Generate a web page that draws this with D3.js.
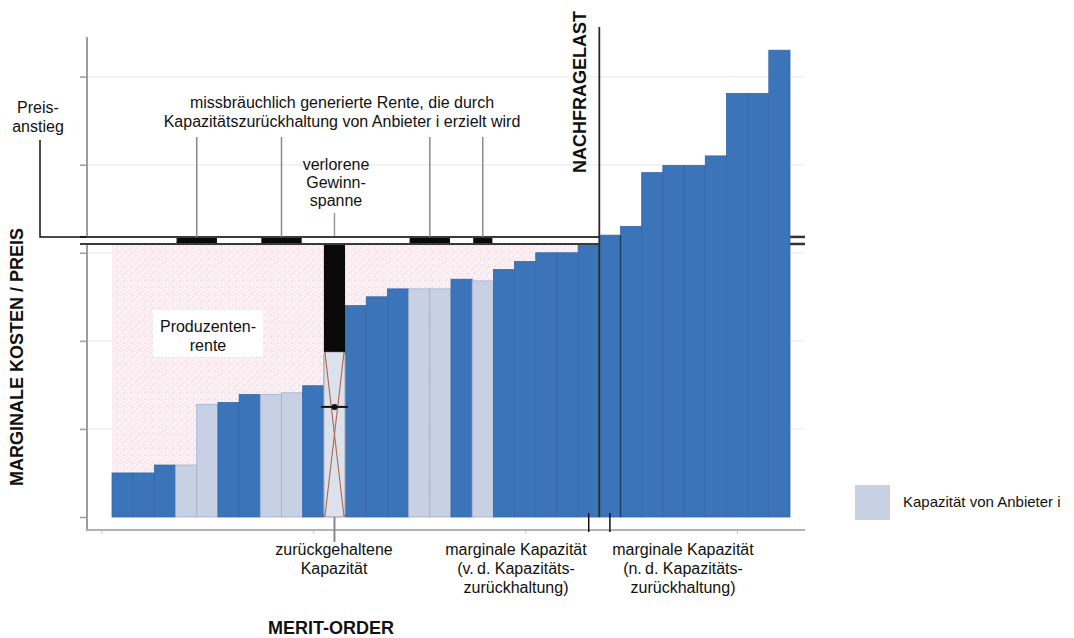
<!DOCTYPE html>
<html><head><meta charset="utf-8">
<script src="https://cdn.jsdelivr.net/npm/d3@7"></script>
<style>
html,body{margin:0;padding:0;background:#fff;}
svg{display:block;font-family:"Liberation Sans",Arial,sans-serif;}
</style></head>
<body><svg id="c" width="1074" height="638"></svg>
<script>
// ---------- data ----------
const marginalCost = [0.50,0.50,0.59,0.59,1.28,1.30,1.39,1.39,1.41,1.49,1.875,2.40,2.50,2.59,2.59,2.59,2.70,2.68,2.81,2.90,3.00,3.00,3.10,3.20,3.30,3.91,3.99,3.99,4.10,4.81,4.81,5.30];
const supplierI    = [0,0,0,1,1,0,0,1,1,0,1,0,0,0,1,1,0,1,0,0,0,0,0,0,0,0,0,0,0,0,0,0];
const withheldIndex = 10;
const demandUnits = 23;          // Nachfragelast (capacity units)
const marginalBefore = 22;       // marginal plant before withholding
const marginalAfter = 23;        // marginal plant after withholding
const priceBefore = 3.10;
const priceAfter = 3.18;
const rentGroups = [[3,4],[7,8],[14,15],[17]];
const yTicks = [0,1,2,3,4,5];
const xTicks = [-0.5,9.5,19.5,29.5];
const lossMarker = 1.25;

// ---------- scales ----------
const svg = d3.select("#c");
const idx = marginalCost.map((d,i)=>i);
const x = d3.scaleBand().domain(idx).range([112,790]).padding(0);
const cap = d3.scaleLinear().domain([0,marginalCost.length]).range([112,790]);
const y = d3.scaleLinear().domain([0,5.45]).range([517,37]);
const bw = x.bandwidth();
const DARK = "#3b74b8", LIGHT = "#c8d1e4";

// pattern for producer rent
const defs = svg.append("defs");
const pat = defs.append("pattern").attr("id","dots").attr("patternUnits","userSpaceOnUse").attr("width",7).attr("height",7);
pat.append("rect").attr("width",7).attr("height",7).attr("fill","#fcf3f6");
[[1,1],[4,3],[2,5],[6,6],[5,0.5]].forEach(p=>pat.append("circle").attr("cx",p[0]).attr("cy",p[1]).attr("r",0.55).attr("fill","#eab6c4"));

// gridlines
svg.append("g").selectAll("line").data(yTicks.filter(t=>t>0)).join("line")
  .attr("x1",88).attr("x2",805).attr("y1",d=>y(d)).attr("y2",d=>y(d))
  .attr("stroke","#f0f0f0").attr("stroke-width",1.5);

// producer rent area
svg.append("rect").attr("x",x(0)).attr("width",cap(demandUnits)-x(0))
  .attr("y",y(priceBefore)).attr("height",y(0)-y(priceBefore)).attr("fill","url(#dots)");

// y axis
svg.append("line").attr("x1",87).attr("x2",87).attr("y1",37).attr("y2",531).attr("stroke","#9d9d9d").attr("stroke-width",2);
const ya = svg.append("g").attr("transform","translate(87,0)")
  .call(d3.axisLeft(y).tickValues(yTicks).tickSize(7).tickFormat(""));
ya.select(".domain").remove();
ya.selectAll("line").attr("stroke","#9d9d9d").attr("stroke-width",1.5);

// x axis
svg.append("line").attr("x1",87).attr("x2",805).attr("y1",530).attr("y2",530).attr("stroke","#b3b3b3").attr("stroke-width",2);
const xa = svg.append("g").attr("transform","translate(0,531)")
  .call(d3.axisBottom(cap).tickValues(xTicks).tickSize(3).tickFormat(""));
xa.select(".domain").remove();
xa.selectAll("line").attr("stroke","#c8c8c8");

// bars before demand
const drawBars = (g, data) => g.selectAll("rect").data(data).join("rect")
  .attr("x",i=>x(i)).attr("width",bw)
  .attr("y",i=>y(marginalCost[i])).attr("height",i=>y(0)-y(marginalCost[i]))
  .attr("fill",i=>supplierI[i]?LIGHT:DARK)
  .attr("stroke",i=>supplierI[i]?"#9fb0cf":"#3468a9").attr("stroke-width",0.8);

drawBars(svg.append("g"), idx.filter(i=>i<demandUnits && i!==withheldIndex));

// withheld capacity bar
const wx = x(withheldIndex);
svg.append("rect").attr("x",wx).attr("width",bw).attr("y",y(marginalCost[withheldIndex]))
  .attr("height",y(0)-y(marginalCost[withheldIndex])).attr("rx",3)
  .attr("fill","#dde1ec").attr("stroke","#9a9a9a").attr("stroke-width",1);
svg.append("line").attr("x1",wx+1).attr("x2",wx+bw-1).attr("y1",y(marginalCost[withheldIndex])).attr("y2",y(0))
  .attr("stroke","#b0684c").attr("stroke-width",1.1);
svg.append("line").attr("x1",wx+bw-1).attr("x2",wx+1).attr("y1",y(marginalCost[withheldIndex])).attr("y2",y(0))
  .attr("stroke","#b0684c").attr("stroke-width",1.1);
// lost margin block
svg.append("rect").attr("x",wx).attr("width",bw).attr("y",y(priceBefore))
  .attr("height",y(marginalCost[withheldIndex])-y(priceBefore)).attr("fill","#0a0a0a");
// marker
svg.append("line").attr("x1",wx-3).attr("x2",wx+bw+3).attr("y1",y(lossMarker)).attr("y2",y(lossMarker)).attr("stroke","#111").attr("stroke-width",2);
svg.append("circle").attr("cx",wx+bw/2).attr("cy",y(lossMarker)).attr("r",3).attr("fill","#111");
// leader lines withheld
svg.append("line").attr("x1",wx+bw/2).attr("x2",wx+bw/2).attr("y1",213).attr("y2",y(priceBefore)).attr("stroke","#999").attr("stroke-width",1.5);
svg.append("line").attr("x1",wx+bw/2).attr("x2",wx+bw/2).attr("y1",y(0)).attr("y2",542).attr("stroke","#888").attr("stroke-width",2);

// price band
const bandL = 80, bandR = cap(demandUnits);
svg.append("rect").attr("x",bandL).attr("width",bandR-bandL).attr("y",y(priceAfter)).attr("height",y(priceBefore)-y(priceAfter)).attr("fill","#fff");
svg.append("g").selectAll("rect").data(rentGroups).join("rect")
  .attr("x",g=>x(g[0])+1).attr("width",g=>x(g[g.length-1])+bw-x(g[0])-2)
  .attr("y",y(priceAfter)).attr("height",y(priceBefore)-y(priceAfter)).attr("fill","#0a0a0a");
[priceAfter, priceBefore].forEach(p=>{
  svg.append("line").attr("x1",bandL).attr("x2",bandR).attr("y1",y(p)).attr("y2",y(p)).attr("stroke","#3a3a3a").attr("stroke-width",2);
  svg.append("line").attr("x1",790).attr("x2",805).attr("y1",y(p)).attr("y2",y(p)).attr("stroke","#333").attr("stroke-width",2.5);
});
// leaders for abusive rent
svg.append("g").selectAll("line").data(rentGroups).join("line")
  .attr("x1",g=>(x(g[0])+x(g[g.length-1])+bw)/2).attr("x2",g=>(x(g[0])+x(g[g.length-1])+bw)/2)
  .attr("y1",137).attr("y2",y(priceAfter)).attr("stroke","#8a8a8a").attr("stroke-width",1.5);

// bars after demand (drawn over band)
drawBars(svg.append("g"), idx.filter(i=>i>=demandUnits));

// demand line
const dx = cap(demandUnits);
svg.append("line").attr("x1",dx).attr("x2",dx).attr("y1",27).attr("y2",y(0)).attr("stroke","#2a2a2a").attr("stroke-width",1.8);
// marginal after edge
const mx = x(marginalAfter)+bw;
svg.append("line").attr("x1",mx).attr("x2",mx).attr("y1",y(marginalCost[marginalAfter])).attr("y2",y(0)).attr("stroke","#1d3d66").attr("stroke-width",1.5);
// marginal tick marks
[marginalBefore, marginalAfter].forEach(i=>{
  svg.append("line").attr("x1",x(i)+bw/2).attr("x2",x(i)+bw/2).attr("y1",513).attr("y2",532).attr("stroke","#111").attr("stroke-width",1.5);
});

// Preisanstieg leader
svg.append("path").attr("d",`M40,140 V${y(priceAfter)} H86`).attr("fill","none").attr("stroke","#111").attr("stroke-width",1.5);

// producer rent label box
svg.append("rect").attr("x",153).attr("y",310).attr("width",110).attr("height",47).attr("fill","#fff");

// ---------- texts ----------
const txt = (lines, cx, y0, lh, opts={}) => {
  const t = svg.append("text").attr("x",cx).attr("y",y0).attr("text-anchor",opts.anchor||"middle")
    .attr("font-size",opts.size||16).attr("fill","#111");
  lines.forEach((l,k)=>t.append("tspan").attr("x",cx).attr("y",y0+k*lh).text(l));
  return t;
};
txt(["Preis-","anstieg"], 38, 113, 19);
txt(["missbräuchlich generierte Rente, die durch","Kapazitätszurückhaltung von Anbieter i erzielt wird"], 342, 108, 19);
txt(["verlorene","Gewinn-","spanne"], 336, 170, 18);
txt(["Produzenten-","rente"], 208, 332, 19);
txt(["zurückgehaltene","Kapazität"], 334, 555, 19);
txt(["marginale Kapazität","(v.\u2009d. Kapazitäts-","zurückhaltung)"], 516, 555, 19);
txt(["marginale Kapazität","(n.\u2009d. Kapazitäts-","zurückhaltung)"], 683, 555, 19);

svg.append("text").attr("transform","translate(586,92) rotate(-90)").attr("text-anchor","middle")
  .attr("font-size",18).attr("font-weight","bold").attr("fill","#111").text("NACHFRAGELAST");
svg.append("text").attr("transform","translate(23,357) rotate(-90)").attr("text-anchor","middle")
  .attr("font-size",18).attr("font-weight","bold").attr("fill","#111").text("MARGINALE KOSTEN / PREIS");
svg.append("text").attr("x",331).attr("y",634).attr("text-anchor","middle")
  .attr("font-size",18).attr("font-weight","bold").attr("fill","#111").text("MERIT-ORDER");

// legend
svg.append("rect").attr("x",855).attr("y",485).attr("width",35).attr("height",35).attr("fill",LIGHT);
svg.append("text").attr("x",903).attr("y",507).attr("font-size",15).attr("fill","#111").text("Kapazität von Anbieter i");
</script></body></html>
